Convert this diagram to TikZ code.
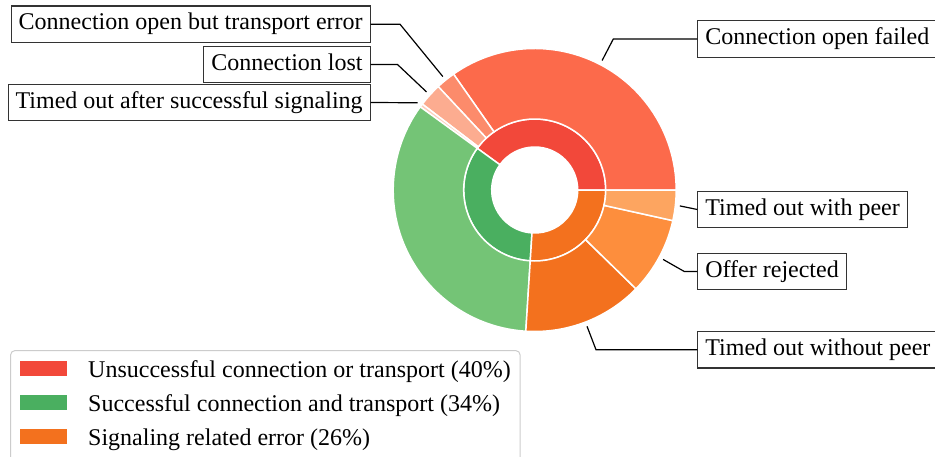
\documentclass[tikz,border=0pt]{standalone}
\usepackage{fontspec}
\setmainfont{Liberation Serif}

% ring colours
\definecolor{redIn}{HTML}{F2483A}
\definecolor{redA}{HTML}{FC6A4B}
\definecolor{redB}{HTML}{FC8B6B}
\definecolor{redC}{HTML}{FCAC90}
\definecolor{redD}{HTML}{FDCFBD}
\definecolor{greenIn}{HTML}{4AAF60}
\definecolor{greenOut}{HTML}{74C476}
\definecolor{orangeIn}{HTML}{F3711E}
\definecolor{orangeA}{HTML}{F3711E}
\definecolor{orangeB}{HTML}{FD8E3D}
\definecolor{orangeC}{HTML}{FDA560}

% one annular sector: start angle, end angle, inner radius, outer radius, colour
\newcommand{\donutslice}[5]{%
  \fill[#5, draw=white, line width=1.5pt]
    (#1:#3) arc[start angle=#1, end angle=#2, radius=#3]
    -- (#2:#4) arc[start angle=#2, end angle=#1, radius=#4] -- cycle;}

\begin{document}
\begin{tikzpicture}[x=1pt, y=-1pt,
  lbl/.style={draw=black!80, line width=1.1pt, fill=white,
    font=\fontsize{24}{28}\selectfont, text height=17pt, text depth=5.5pt,
    inner xsep=7.5pt, inner ysep=7pt},
  leader/.style={draw=black, line width=1.2pt},
  legtext/.style={font=\fontsize{24}{28}\selectfont, inner sep=0pt, anchor=base west},
  swatch/.style={minimum width=47pt, minimum height=15pt, inner sep=0pt, anchor=west}
]
\useasboundingbox (0,0) rectangle (935,456);
\clip (0,0) rectangle (935,456);

% ---- sunburst ----
\begin{scope}[shift={(534.7,190)}, yscale=-1]
  % inner ring: categories
  \donutslice{0}{144}{43}{71}{redIn}
  \donutslice{144}{266.4}{43}{71}{greenIn}
  \donutslice{266.4}{360}{43}{71}{orangeIn}
  % outer ring: outcomes
  \donutslice{0}{125}{71}{141.5}{redA}
  \donutslice{125}{133}{71}{141.5}{redB}
  \donutslice{133}{142.6}{71}{141.5}{redC}
  \donutslice{142.6}{144}{71}{141.5}{redD}
  \donutslice{144}{266.4}{71}{141.5}{greenOut}
  \donutslice{266.4}{315.7}{71}{141.5}{orangeA}
  \donutslice{315.7}{347.5}{71}{141.5}{orangeB}
  \donutslice{347.5}{360}{71}{141.5}{orangeC}
  % leader start points just outside the ring
  \coordinate (p-cof)   at (62.5:146);
  \coordinate (p-tre)   at (129:146);
  \coordinate (p-lost)  at (137.8:146);
  \coordinate (p-tos)   at (143.3:146);
  \coordinate (p-twp)   at (353.75:146);
  \coordinate (p-offer) at (331.6:146);
  \coordinate (p-twop)  at (291:146);
\end{scope}

% ---- labels ----
\node[lbl, anchor=west] (cof)   at (697.3,39)    {Connection open failed};
\node[lbl, anchor=east] (tre)   at (370.7,24.2)  {Connection open but transport error};
\node[lbl, anchor=east] (lost)  at (370.7,64.5)  {Connection lost};
\node[lbl, anchor=east] (tos)   at (370.7,102.5) {Timed out after successful signaling};
\node[lbl, anchor=west] (twp)   at (697.3,209.5) {Timed out with peer};
\node[lbl, anchor=west] (offer) at (697.3,271.5) {Offer rejected};
\node[lbl, anchor=west] (twop)  at (697.3,349.7) {Timed out without peer};

% elbows of the leader lines
\coordinate (e-cof)   at (613.3,39);
\coordinate (e-tre)   at (400,24.2);
\coordinate (e-lost)  at (397.5,64.5);
\coordinate (e-offer) at (684.3,271.5);
\coordinate (e-twop)  at (596,349.7);

\draw[leader] (p-cof) -- (e-cof) -- (cof.west);
\draw[leader] (p-tre) -- (e-tre) -- (tre.east);
\draw[leader] (p-lost) -- (e-lost) -- (lost.east);
\draw[leader] (p-tos) -- (tos.east);
\draw[leader] (p-twp) -- (twp.west);
\draw[leader] (p-offer) -- (e-offer) -- (offer.west);
\draw[leader] (p-twop) -- (e-twop) -- (twop.west);

% ---- legend ----
\draw[draw=black!20, line width=1pt, rounded corners=4pt, fill=white]
  (10.7,350.7) rectangle (520,480);
\node[swatch, fill=redIn]    (sw1) at (20,368)   {};
\node[swatch, fill=greenIn]  (sw2) at (20,402.5) {};
\node[swatch, fill=orangeIn] (sw3) at (20,436.5) {};
\node[legtext] (lg1) at (88,377)   {Unsuccessful connection or transport (40\%)};
\node[legtext] (lg2) at (88,411.5) {Successful connection and transport (34\%)};
\node[legtext] (lg3) at (88,445.5) {Signaling related error (26\%)};
\end{tikzpicture}
\end{document}
